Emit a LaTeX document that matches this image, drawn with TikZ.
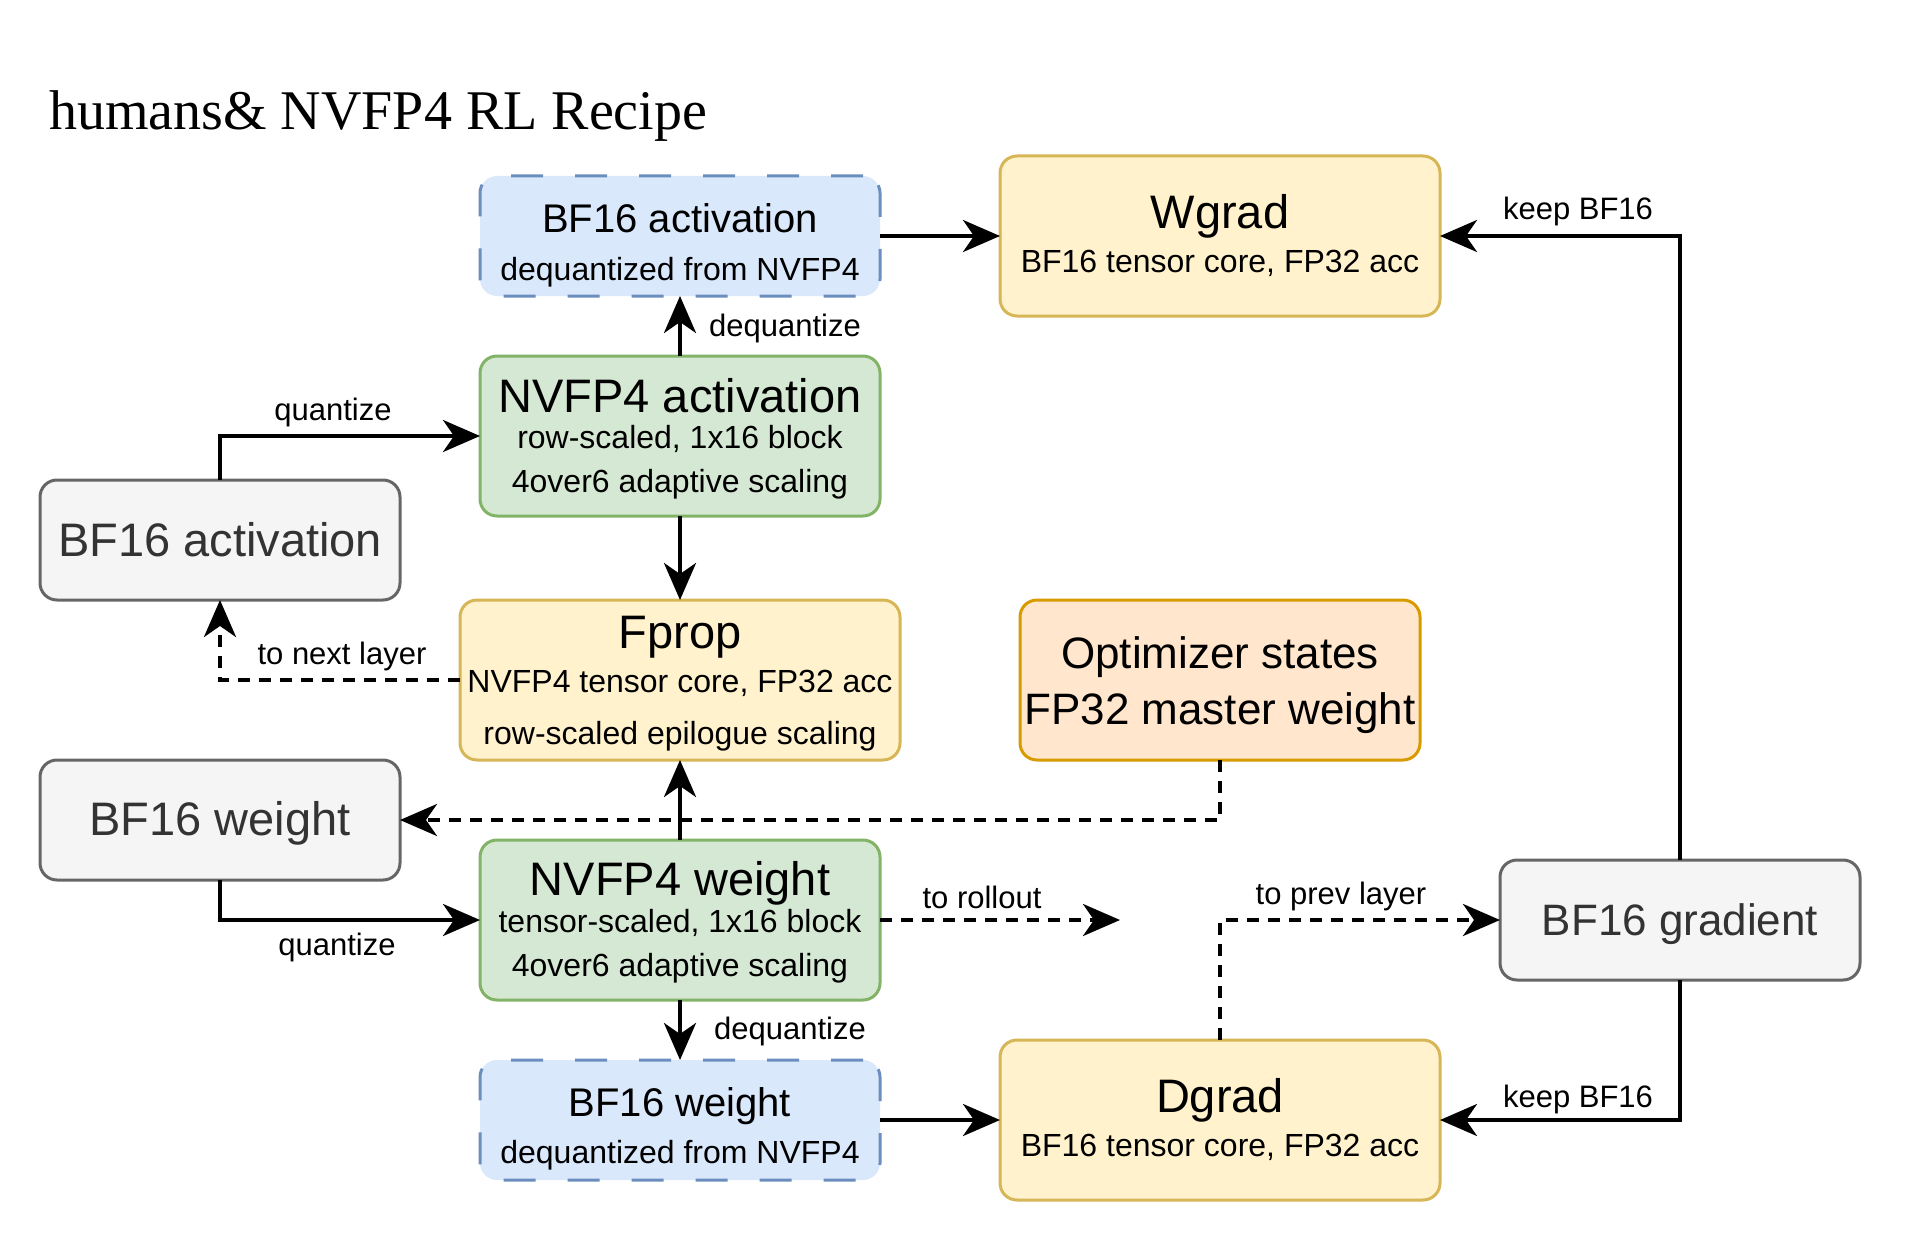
\documentclass[tikz,border=0pt]{standalone}
\usepackage{fontspec}
\setmainfont{Liberation Serif}
\newfontfamily\hv{Liberation Sans}
\usetikzlibrary{arrows.meta}
\definecolor{grayF}{HTML}{F5F5F5}
\definecolor{grayD}{HTML}{666666}
\definecolor{grayT}{HTML}{333333}
\definecolor{blueF}{HTML}{DAE8FC}
\definecolor{blueD}{HTML}{6C8EBF}
\definecolor{greenF}{HTML}{D5E8D4}
\definecolor{greenD}{HTML}{82B366}
\definecolor{yelF}{HTML}{FFF2CC}
\definecolor{yelD}{HTML}{D6B656}
\definecolor{oraF}{HTML}{FFE6CC}
\definecolor{oraD}{HTML}{D79B00}
\tikzset{
  box/.style={draw, rounded corners=17pt, line width=3pt, inner sep=0pt, outer sep=0pt},
  graybox/.style={box, fill=grayF, draw=grayD, minimum width=360pt, minimum height=120pt},
  bluebox/.style={box, fill=blueF, draw=blueD, dash pattern=on 32pt off 32pt, minimum width=400pt, minimum height=120pt},
  greenbox/.style={box, fill=greenF, draw=greenD, minimum width=400pt, minimum height=160pt},
  yelbox/.style={box, fill=yelF, draw=yelD, minimum width=440pt, minimum height=160pt},
  orabox/.style={box, fill=oraF, draw=oraD, minimum width=400pt, minimum height=160pt},
  txt/.style={font=\hv\fontsize{#1}{#1}\selectfont, inner sep=0pt, anchor=center, text height={0.9*#1}, text depth={0.2*#1}},
  lbl/.style={txt=31pt},
  arr/.style={line width=4pt, -{Stealth[length=37pt, width=32pt, inset=11pt]}},
  darr/.style={arr, dash pattern=on 12pt off 9pt},
}
\begin{document}
\begin{tikzpicture}[x=1pt,y=-1pt]
\useasboundingbox[fill=white] (0,0) rectangle (1920,1244);

% title
\node[font=\fontsize{56pt}{56pt}\selectfont, inner sep=0pt, anchor=base west] (title) at (49,130) {humans\& NVFP4 RL Recipe};

% boxes
\node[bluebox]  (bfa2)  at (680,236) {};
\node[yelbox]   (wgrad) at (1220,236) {};
\node[greenbox] (nvact) at (680,436) {};
\node[graybox]  (bfact) at (220,540) {};
\node[yelbox]   (fprop) at (680,680) {};
\node[orabox]   (opt)   at (1220,680) {};
\node[graybox]  (bfw)   at (220,820) {};
\node[greenbox] (nvw)   at (680,920) {};
\node[graybox]  (grad)  at (1680,920) {};
\node[bluebox]  (bfw2)  at (680,1120) {};
\node[yelbox]   (dgrad) at (1220,1120) {};

% box texts
\node[txt=40pt] (bfa2-t) at (680,218) {BF16 activation};
\node[txt=32pt] (bfa2-s) at (680,269) {dequantized from NVFP4};
\node[txt=47pt] (wgrad-t) at (1220,212) {Wgrad};
\node[txt=32pt] (wgrad-s) at (1220,261) {BF16 tensor core, FP32 acc};
\node[txt=47pt] (nvact-t) at (680,396) {NVFP4 activation};
\node[txt=32pt] (nvact-s1) at (680,437) {row-scaled, 1x16 block};
\node[txt=32pt] (nvact-s2) at (680,481) {4over6 adaptive scaling};
\node[txt=47pt, text=grayT] (bfact-t) at (220,540) {BF16 activation};
\node[txt=47pt] (fprop-t) at (680,632) {Fprop};
\node[txt=32pt] (fprop-s1) at (680,681) {NVFP4 tensor core, FP32 acc};
\node[txt=32pt] (fprop-s2) at (680,733) {row-scaled epilogue scaling};
\node[txt=44pt] (opt-t) at (1220,653) {Optimizer states};
\node[txt=44pt] (opt-s) at (1220,709) {FP32 master weight};
\node[txt=47pt, text=grayT] (bfw-t) at (220,819) {BF16 weight};
\node[txt=47pt] (nvw-t) at (680,879) {NVFP4 weight};
\node[txt=32pt] (nvw-s1) at (680,921) {tensor-scaled, 1x16 block};
\node[txt=32pt] (nvw-s2) at (680,965) {4over6 adaptive scaling};
\node[txt=44pt, text=grayT] (grad-t) at (1680,920) {BF16 gradient};
\node[txt=40pt] (bfw2-t) at (680,1102) {BF16 weight};
\node[txt=32pt] (bfw2-s) at (680,1152) {dequantized from NVFP4};
\node[txt=47pt] (dgrad-t) at (1220,1096) {Dgrad};
\node[txt=32pt] (dgrad-s) at (1220,1145) {BF16 tensor core, FP32 acc};

% connectors
\coordinate (rollout) at (1120,920);
\draw[arr] (bfa2.east) -- (wgrad.west);
\draw[arr] (nvact.north) -- (bfa2.south);
\draw[arr] (bfact.north) |- (nvact.west);
\draw[arr] (nvact.south) -- (fprop.north);
\draw[darr] (fprop.west) -| (bfact.south);
\draw[arr] (nvw.north) -- (fprop.south);
\draw[darr] (opt.south) |- (bfw.east);
\draw[arr] (bfw.south) |- (nvw.west);
\draw[darr] (nvw.east) -- (rollout);
\draw[arr] (nvw.south) -- (bfw2.north);
\draw[arr] (bfw2.east) -- (dgrad.west);
\draw[darr] (dgrad.north) |- (grad.west);
\draw[arr] (grad.north) |- (wgrad.east);
\draw[arr] (grad.south) |- (dgrad.east);

% connector labels
\node[lbl] (l-deq1) at (785,326) {dequantize};
\node[lbl] (l-q1) at (333,410) {quantize};
\node[lbl] (l-next) at (342,654) {to next layer};
\node[lbl] (l-q2) at (337,945) {quantize};
\node[lbl] (l-roll) at (982,898) {to rollout};
\node[lbl] (l-deq2) at (790,1029) {dequantize};
\node[lbl] (l-prev) at (1341,894) {to prev layer};
\node[lbl] (l-keep1) at (1578,209) {keep BF16};
\node[lbl] (l-keep2) at (1578,1097) {keep BF16};
\end{tikzpicture}
\end{document}
